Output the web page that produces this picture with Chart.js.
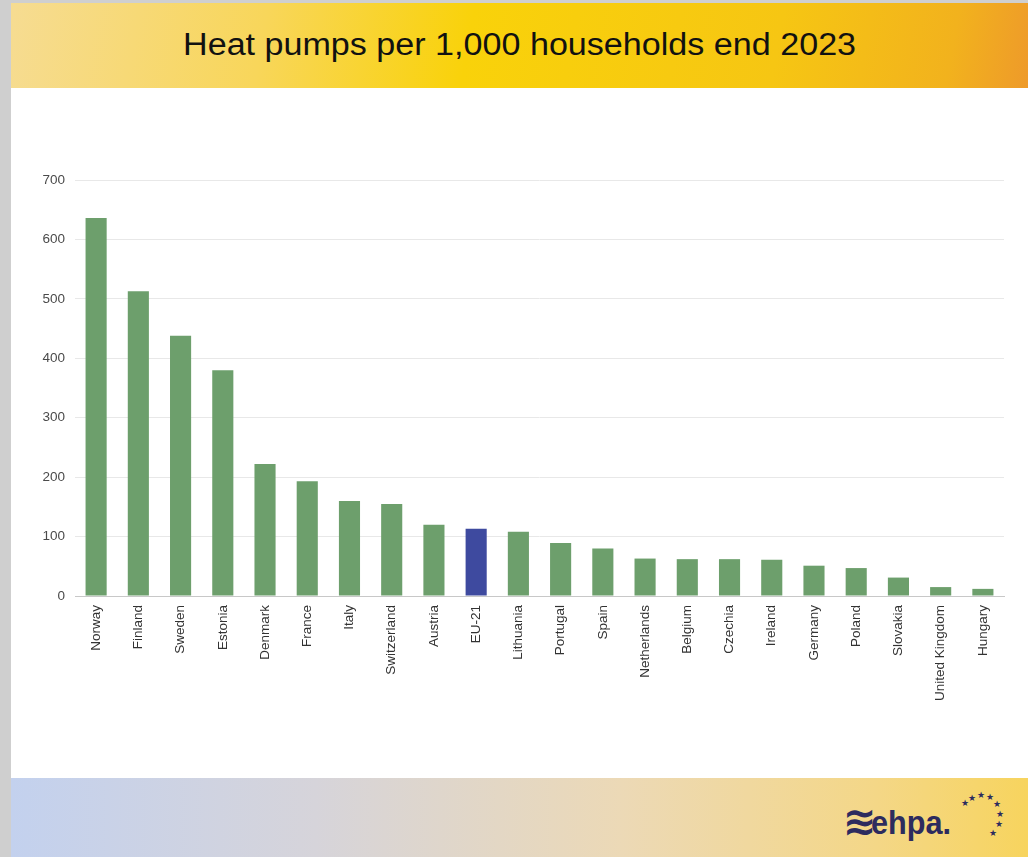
<!DOCTYPE html>
<html>
<head>
<meta charset="utf-8">
<script src="https://cdn.jsdelivr.net/npm/chart.js@4.4.1/dist/chart.umd.min.js"></script>
<style>
  html,body{margin:0;padding:0;width:1028px;height:857px;overflow:hidden;background:#cfcfcf;font-family:"Liberation Sans",Arial,sans-serif;}
  #page{position:absolute;left:11px;top:3px;width:1017px;height:854px;background:#fff;}
  #banner{position:absolute;left:0;top:0;width:1017px;height:85px;
    background:linear-gradient(100deg,#f6dc92 0%,#f8d65a 25%,#f9d20a 45%,#f6c613 75%,#f2b21d 92%,#ee9a2a 100%);}
  #title{position:absolute;left:0;top:24px;width:1017px;text-align:center;font-size:31px;color:#111;transform:scaleX(1.1);transform-origin:508px 0;}
  #footer{position:absolute;left:0;top:775px;width:1017px;height:79px;
    background:linear-gradient(90deg,#c3d1ee 0%,#d6d4da 30%,#ecd9b6 60%,#f4d787 85%,#f7d45e 100%);}
  #wrap{position:absolute;left:0;top:85px;width:1017px;height:690px;}
  #waves{position:absolute;left:832px;top:20px;font-size:40px;font-weight:bold;color:#2d2b5e;font-family:"DejaVu Sans",sans-serif;}
  #logo{position:absolute;left:860px;top:25px;font-size:34px;font-weight:bold;color:#2d2b5e;font-family:"Liberation Sans",Arial,sans-serif;transform:scaleX(0.9);transform-origin:0 0;}
  .st{position:absolute;font-size:9px;color:#2d2b5e;}
</style>
</head>
<body>
<div id="page">
  <div id="banner"><div id="title">Heat pumps per 1,000 households end 2023</div></div>
  <div id="wrap"><canvas id="c" width="1017" height="690"></canvas></div>
  <div id="footer">
    <div id="waves">≋</div>
    <div id="logo">ehpa.</div>
    <span class="st" style="left:950px;top:20px">★</span>
    <span class="st" style="left:957px;top:15px">★</span>
    <span class="st" style="left:966px;top:12px">★</span>
    <span class="st" style="left:975px;top:14px">★</span>
    <span class="st" style="left:982px;top:21px">★</span>
    <span class="st" style="left:985px;top:31px">★</span>
    <span class="st" style="left:984px;top:41px">★</span>
    <span class="st" style="left:978px;top:50px">★</span>
  </div>
</div>
<script>
const categories = ["Norway","Finland","Sweden","Estonia","Denmark","France","Italy","Switzerland","Austria","EU-21","Lithuania","Portugal","Spain","Netherlands","Belgium","Czechia","Ireland","Germany","Poland","Slovakia","United Kingdom","Hungary"];
const values = [636,513,438,380,222,193,160,155,120,113,108,89,80,63,62,62,61,51,47,31,15,12];
const highlight = "EU-21";
const yTicks = [0,100,200,300,400,500,600,700];

const barColors = categories.map(c => c === highlight ? "#3e4a9f" : "#6d9f6c");

new Chart(document.getElementById("c"), {
  type: "bar",
  data: {
    labels: categories,
    datasets: [{
      data: values,
      backgroundColor: barColors,
      borderWidth: 0,
      categoryPercentage: 1.0,
      barPercentage: 0.5
    }]
  },
  options: {
    responsive: false,
    animation: false,
    layout: { padding: { left: 0, right: 24, top: 92, bottom: 12 } },
    plugins: { legend: { display: false }, tooltip: { enabled: false } },
    scales: {
      x: {
        grid: { display: false, drawTicks: false },
        border: { display: true, color: "#c8c8c8", width: 1 },
        ticks: {
          minRotation: 90, maxRotation: 90, autoSkip: false, padding: 9,
          color: "#333", font: { family: "Liberation Sans, Arial, sans-serif", size: 13.5 }
        },
        afterFit(scale) { scale.height = 170; }
      },
      y: {
        min: 0, max: 700,
        afterBuildTicks(scale) { scale.ticks = yTicks.map(v => ({ value: v })); },
        grid: { color: "#e8e8e8", drawTicks: false, lineWidth: 1 },
        border: { display: false },
        ticks: {
          padding: 10, color: "#4a4a4a",
          font: { family: "Liberation Sans, Arial, sans-serif", size: 13.5 }
        },
        afterFit(scale) { scale.width = 64; }
      }
    }
  }
});
</script>
</body>
</html>
